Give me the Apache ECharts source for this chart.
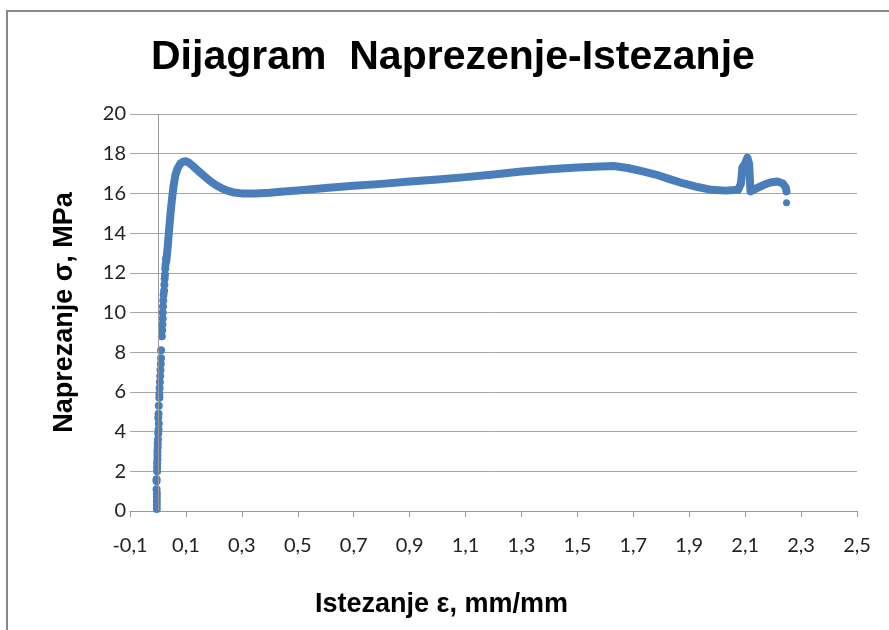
<!DOCTYPE html>
<html>
<head>
<meta charset="utf-8">
<script src="https://cdn.jsdelivr.net/npm/echarts@6/dist/echarts.min.js"></script>
<style>
  html, body { margin: 0; padding: 0; background: #fff; }
  #chart { width: 889px; height: 630px; }
</style>
</head>
<body>
<div id="chart"></div>
<script>
// elasticni dio - pojedinacne tocke
var strainLow = [-0.004, -0.004, -0.004, -0.004, -0.004, -0.005, -0.005, -0.005, -0.003, -0.003, -0.003,
  -0.002, -0.002, -0.002, -0.001, -0.001, 0.000, 0.001, 0.002, 0.003, 0.001, 0.002, 0.003, 0.005,
  0.005, 0.006, 0.007, 0.008, 0.009, 0.010, 0.011, 0.011, 0.014, 0.015, 0.016, 0.017, 0.017,
  0.018, 0.019, 0.020, 0.022, 0.023, 0.024, 0.025, 0.026, 0.027, 0.029];
var stressLow = [0.1, 0.3, 0.5, 0.7, 0.9, 1.1, 1.5, 1.6, 2.0, 2.2, 2.4,
  2.6, 2.8, 3.0, 3.2, 3.4, 3.6, 3.9, 4.1, 4.4, 4.7, 4.9, 5.3, 5.7,
  5.9, 6.2, 6.5, 6.8, 7.1, 7.4, 7.7, 8.1, 8.8, 9.1, 9.4, 9.7, 10.0,
  10.3, 10.6, 10.9, 11.1, 11.4, 11.7, 11.9, 12.2, 12.4, 12.7];

// ostatak krivulje
var strainMain = [0.030, 0.036, 0.040, 0.045, 0.050, 0.055, 0.062, 0.070, 0.080, 0.090, 0.100,
  0.110, 0.125, 0.145, 0.165, 0.185, 0.205, 0.225, 0.245, 0.270, 0.300, 0.350, 0.400, 0.450,
  0.500, 0.600, 0.700, 0.800, 0.900, 1.000, 1.100, 1.200, 1.300, 1.400, 1.500, 1.580, 1.630,
  1.680, 1.730, 1.780, 1.830, 1.880, 1.930, 1.980, 2.030, 2.075, 2.085, 2.090, 2.100, 2.108,
  2.114, 2.116, 2.119, 2.125, 2.140, 2.165, 2.190, 2.215, 2.235, 2.245, 2.248];
var stressMain = [12.6, 13.5, 14.2, 15.0, 15.7, 16.3, 16.9, 17.25, 17.5, 17.6, 17.62,
  17.55, 17.38, 17.12, 16.88, 16.64, 16.44, 16.28, 16.15, 16.05, 16.0, 15.99, 16.03, 16.10,
  16.15, 16.27, 16.38, 16.48, 16.6, 16.7, 16.82, 16.95, 17.1, 17.22, 17.3, 17.35, 17.38,
  17.28, 17.12, 16.95, 16.72, 16.5, 16.32, 16.18, 16.14, 16.18, 16.5, 17.3, 17.5, 17.8,
  17.5, 17.0, 16.1, 16.05, 16.25, 16.42, 16.55, 16.6, 16.5, 16.3, 16.1];

var strainEnd = [2.248];
var stressEnd = [15.53];

function pairs(xs, ys) {
  var out = [];
  for (var i = 0; i < xs.length; i++) out.push([xs[i], ys[i]]);
  return out;
}

var blue = '#4a7ebb';
var boldFont = "'Liberation Sans Narrow', 'Liberation Sans', sans-serif";
var myChart = echarts.init(document.getElementById('chart'));

myChart.setOption({
  backgroundColor: '#fff',
  animation: false,
  title: {
    text: 'Dijagram  Naprezenje-Istezanje',
    left: 146,
    top: 32,
    textStyle: {
      fontFamily: boldFont,
      fontWeight: 'bold',
      fontSize: 41,
      color: '#000'
    }
  },
  graphic: [{
    type: 'rect',
    shape: { x: 7, y: 11, width: 1000, height: 1000 },
    style: { fill: 'none', stroke: '#888', lineWidth: 2 },
    silent: true
  }],
  grid: { left: 130, right: 32, top: 114, bottom: 119 },
  xAxis: {
    type: 'value',
    min: -0.1,
    max: 2.5,
    interval: 0.2,
    name: 'Istezanje ε, mm/mm',
    nameLocation: 'middle',
    nameGap: 80,
    nameTextStyle: {
      fontFamily: boldFont,
      fontWeight: 'bold', fontSize: 27, color: '#000',
      padding: [0, 104, 0, 0]
    },
    axisLine: { onZero: false, lineStyle: { color: '#999', width: 1 } },
    axisTick: { show: true, length: 6, lineStyle: { color: '#999' } },
    axisLabel: {
      margin: 25,
      fontFamily: 'Lato, sans-serif', fontSize: 20, color: '#222',
      formatter: function (v) { return v.toFixed(1).replace('.', ','); }
    },
    splitLine: { show: false }
  },
  yAxis: {
    type: 'value',
    min: 0,
    max: 20,
    interval: 2,
    name: 'Naprezanje σ, MPa',
    nameLocation: 'middle',
    nameGap: 52,
    nameTextStyle: {
      fontFamily: boldFont,
      fontWeight: 'bold', fontSize: 27, color: '#000'
    },
    axisLine: { show: false, onZero: false },
    axisTick: { show: false },
    axisLabel: { margin: 4, fontFamily: 'Lato, sans-serif', fontSize: 20, color: '#222' },
    splitLine: { lineStyle: { color: '#a6a6a6', width: 1 } }
  },
  series: [
    {
      name: 'krivulja',
      type: 'line',
      data: pairs(strainMain, stressMain),
      showSymbol: false,
      lineStyle: { color: blue, width: 8, cap: 'round', join: 'round' },
      itemStyle: { color: blue },
      markLine: {
        silent: true,
        symbol: 'none',
        label: { show: false },
        lineStyle: { color: '#999', type: 'solid', width: 1 },
        data: [{ xAxis: 0 }]
      },
      z: 3
    },
    {
      name: 'elasticno',
      type: 'scatter',
      data: pairs(strainLow, stressLow),
      symbolSize: 8,
      itemStyle: { color: blue, opacity: 1 },
      z: 4
    },
    {
      name: 'kraj',
      type: 'scatter',
      data: pairs(strainEnd, stressEnd),
      symbolSize: 7,
      itemStyle: { color: blue, opacity: 1 },
      z: 4
    }
  ]
});
</script>
</body>
</html>
